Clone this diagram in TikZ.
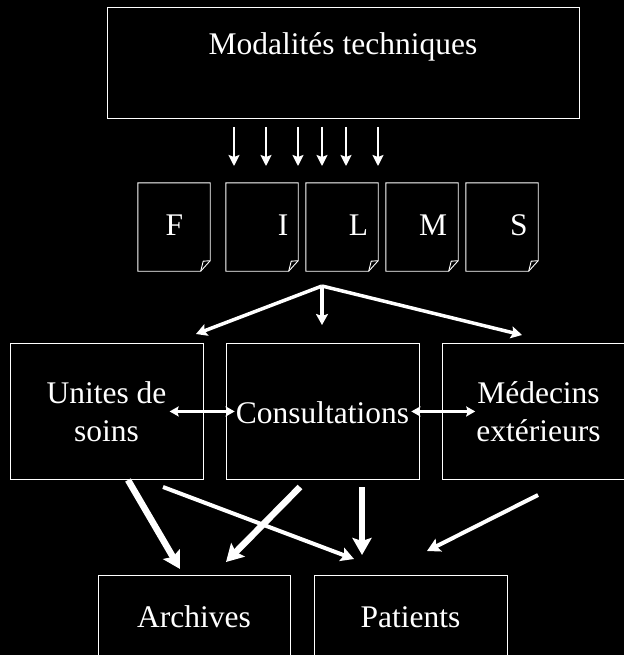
\documentclass[tikz,border=0pt]{standalone}
\usepackage{fontspec}
\setmainfont{Liberation Serif}
\usetikzlibrary{arrows.meta}

\begin{document}
\begin{tikzpicture}[x=1pt, y=-1pt,
  box/.style={draw=white, line width=0.9pt, inner sep=0pt, anchor=north west},
  lbl/.style={text=white, inner sep=0pt, align=center,
              font=\fontsize{31.5}{38}\selectfont},
  docnode/.style={inner sep=0pt, minimum width=72pt, minimum height=88pt},
  docline/.style={draw=white, line width=0.9pt, line join=miter},
  feed/.style={white, line width=2pt,
               -{Stealth[length=11pt, width=11pt, inset=2pt]}},
  spread/.style={white, line width=3.5pt,
                 -{Stealth[length=11pt, width=12pt, inset=2pt]}},
  dbl/.style={white, line width=3pt,
              {Stealth[length=9pt, width=10pt, inset=1.5pt]}-{Stealth[length=9pt, width=10pt, inset=1.5pt]}},
  thinout/.style={white, line width=4pt,
                  -{Stealth[length=13pt, width=14pt, inset=2.5pt]}},
  thickout/.style={white, line width=6.5pt,
                   -{Stealth[length=17pt, width=19pt, inset=3pt]}},
]
  % canvas
  \fill[black] (0,0) rectangle (624,655);
  \useasboundingbox (0,0) rectangle (624,655);

  % source block
  \node[box, minimum width=472pt, minimum height=111pt] (mod) at (107,7) {};
  \node[lbl, anchor=base] (modt) at (343,55) {Modalités techniques};

  % one arrow per produced film
  \foreach \x in {234,266,298,322,346,378}
    \draw[feed] (\x,127) -- (\x,166);

  % the five film sheets, each with a folded corner
  \foreach \name/\cx in {dF/174, dI/262, dL/342, dM/422, dS/502} {
    \node[docnode] (\name) at (\cx,227) {};
    \draw[docline] (\name.north west) -- (\name.north east)
      -- ([yshift=10.5pt]\name.south east)
      -- ([xshift=-9.5pt]\name.south east)
      -- (\name.south west) -- cycle;
    \draw[docline] ([xshift=-9.5pt]\name.south east)
      -- ([xshift=-7pt, yshift=10pt]\name.south east)
      -- ([yshift=10.5pt]\name.south east);
  }
  \node[lbl, anchor=base] (lF) at (174.5,235) {F};
  \node[lbl, anchor=base] (lI) at (283,235) {I};
  \node[lbl, anchor=base] (lL) at (358.5,235) {L};
  \node[lbl, anchor=base] (lM) at (433,235) {M};
  \node[lbl, anchor=base] (lS) at (519,235) {S};

  % distribution to the three users
  \coordinate (apex) at (322,286);
  \coordinate (toU) at (196,334);
  \coordinate (toC) at (322,325);
  \coordinate (toM) at (522,335);
  \draw[spread] (apex) -- (toU);
  \draw[spread] (apex) -- (toC);
  \draw[spread] (apex) -- (toM);

  % users
  \node[box, minimum width=193pt, minimum height=136pt] (uni) at (10,343) {};
  \node[box, minimum width=193pt, minimum height=136pt] (cons) at (226,343) {};
  \node[box, minimum width=193pt, minimum height=136pt] (med) at (442,343) {};
  \node[lbl] (unit) at (106.5,412) {Unites de\\soins};
  \node[lbl, anchor=base] (const) at (322.5,423) {Consultations};
  \node[lbl] (medt) at (538.5,412) {Médecins\\extérieurs};

  % exchanges between users
  \draw[dbl, shorten <=3pt, shorten >=1pt] (unit.east |- uni.center) -- (const.west |- uni.center);
  \draw[dbl, shorten <=2pt, shorten >=1pt] (const.east |- uni.center) -- (medt.west |- uni.center);

  % destinations
  \node[box, minimum width=192pt, minimum height=80pt] (arch) at (98,575) {};
  \node[box, minimum width=193pt, minimum height=80pt] (pat) at (314,575) {};
  \node[lbl, anchor=base] (archt) at (194,627) {Archives};
  \node[lbl, anchor=base] (patt) at (410.5,627) {Patients};

  % flows to archives and patients
  \coordinate (u1) at (128,480);
  \coordinate (u2) at (163,487);
  \coordinate (c1) at (300,487);
  \coordinate (c2) at (362,487);
  \coordinate (m1) at (538,495);
  \coordinate (a1) at (180,569);
  \coordinate (a2) at (226,562);
  \coordinate (p1) at (354,559);
  \coordinate (p2) at (362,555);
  \coordinate (p3) at (427,551);
  \draw[thickout] (u1) -- (a1);
  \draw[thinout] (u2) -- (p1);
  \draw[thickout] (c1) -- (a2);
  \draw[thickout] (c2) -- (p2);
  \draw[thinout] (m1) -- (p3);
\end{tikzpicture}
\end{document}
